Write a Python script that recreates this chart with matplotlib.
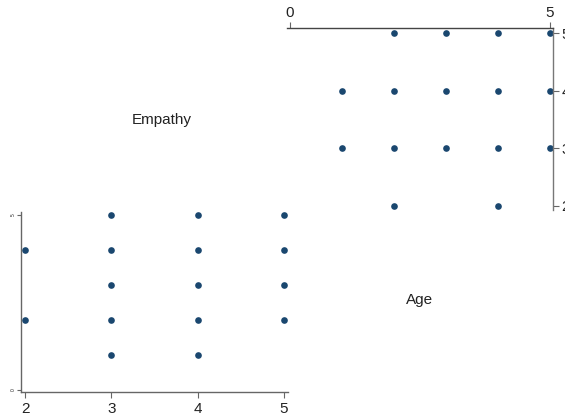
import matplotlib
matplotlib.use("Agg")
import matplotlib.pyplot as plt

plt.rcParams['font.family'] = ['Liberation Sans', 'DejaVu Sans']

# upper-right cell: Age (x) against Empathy (y)
age_x = [2, 3, 4, 5, 1, 2, 3, 4, 5, 1, 2, 3, 4, 5, 2, 4]
emp_y = [5, 5, 5, 5, 4, 4, 4, 4, 4, 3, 3, 3, 3, 3, 2, 2]

# lower-left cell: Empathy (x) against Age (y)
emp_x = [2, 2, 3, 3, 3, 3, 3, 4, 4, 4, 4, 4, 5, 5, 5, 5]
age_y = [4, 2, 5, 4, 3, 2, 1, 5, 4, 3, 2, 1, 5, 4, 3, 2]

top_xticks = [0, 5]
top_yticks = [2, 3, 4, 5]
bot_xticks = [2, 3, 4, 5]
bot_yticks = [0, 5]

dot = '#1a476f'
axcol = '#666666'
W, H = 565, 416

fig = plt.figure(figsize=(W / 100, H / 100), dpi=100)
fig.patch.set_facecolor('white')

# upper-right panel
ax1 = fig.add_axes([287 / W, 1 - 210 / H, (553 - 287) / W, (210 - 28) / H])
ax1.plot(age_x, emp_y, 'o', color=dot, markersize=4.8, markeredgewidth=0)
ax1.set_xlim(-0.06, 5.06)
ax1.set_ylim(1.93, 5.09)
for s in ['left', 'bottom']:
    ax1.spines[s].set_visible(False)
ax1.spines['top'].set_color('#444444')
ax1.spines['right'].set_color('#777777')
for s in ['top', 'right']:
    ax1.spines[s].set_linewidth(1.0)
ax1.xaxis.tick_top()
ax1.yaxis.tick_right()
ax1.set_xticks(top_xticks)
ax1.set_yticks(top_yticks)
ax1.tick_params(axis='both', colors=axcol, length=4, width=0.8, labelsize=11,
                labelcolor='#222222', pad=2)
ax1.set_facecolor('none')

# lower-left panel
ax2 = fig.add_axes([21 / W, 1 - 392 / H, (288 - 21) / W, (392 - 212) / H])
ax2.plot(emp_x, age_y, 'o', color=dot, markersize=4.8, markeredgewidth=0)
ax2.set_xlim(1.95, 5.05)
ax2.set_ylim(-0.06, 5.09)
for s in ['top', 'right']:
    ax2.spines[s].set_visible(False)
for s in ['left', 'bottom']:
    ax2.spines[s].set_color(axcol)
    ax2.spines[s].set_linewidth(1.0)
ax2.set_xticks(bot_xticks)
ax2.set_yticks(bot_yticks)
ax2.tick_params(axis='x', colors=axcol, length=4, width=0.8, labelsize=11,
                labelcolor='#222222', pad=3)
ax2.tick_params(axis='y', colors=axcol, length=3, width=0.8, labelsize=3.5,
                labelcolor='#222222', pad=1, labelrotation=90)
ax2.set_facecolor('none')

# diagonal variable names
fig.text(162 / W, 1 - 120 / H, 'Empathy', ha='center', va='center', fontsize=11,
         color='#222222')
fig.text(420 / W, 1 - 300 / H, 'Age', ha='center', va='center', fontsize=11,
         color='#222222')

fig.savefig('out.png', dpi=100, facecolor='white')
